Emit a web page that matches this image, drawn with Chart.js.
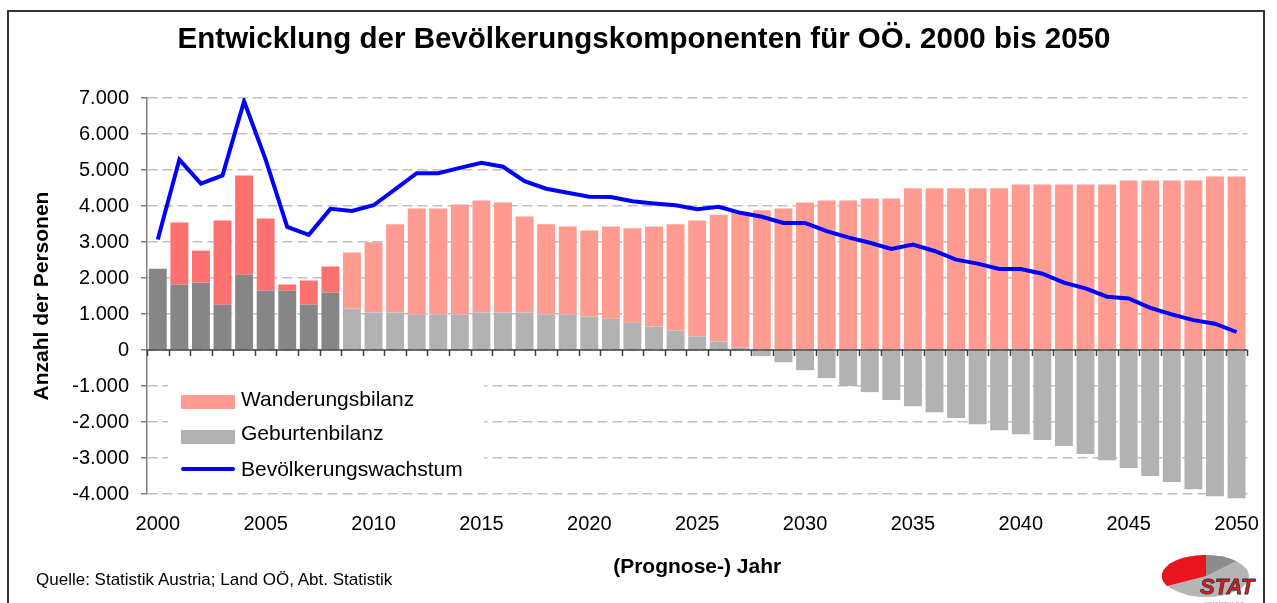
<!DOCTYPE html>
<html lang="de">
<head>
<meta charset="utf-8">
<title>Bevölkerungskomponenten OÖ</title>
<script src="https://cdn.jsdelivr.net/npm/chart.js@4.4.1/dist/chart.umd.min.js"></script>
<style>
  body { margin: 0; background: #fff; font-family: Arial, "Liberation Sans", sans-serif; }
  #wrap { position: relative; width: 1277px; height: 603px; overflow: hidden; }
  #rahmen { position: absolute; left: 7px; top: 10px; width: 1258px; height: 620px; border: 2px solid #333; box-sizing: border-box; }
  #titel { position: absolute; left: 0; width: 1288px; top: 21px; text-align: center; font-size: 29.5px; font-weight: bold; line-height: 34px; }
  #quelle { position: absolute; left: 36px; top: 570px; font-size: 17px; line-height: 20px; }
  #legende { position: absolute; left: 168px; top: 378px; width: 316px; height: 104px; background: #fff; }
  .eintrag { position: absolute; left: 73px; font-size: 21px; line-height: 24px; }
  .feld { position: absolute; left: 13px; width: 54px; height: 14px; }
  #logo { position: absolute; left: 1158px; top: 548px; }
</style>
</head>
<body>
<div id="wrap">
  <canvas id="grafik"></canvas>
  <div id="rahmen"></div>
  <div id="titel">Entwicklung der Bevölkerungskomponenten für OÖ. 2000 bis 2050</div>
  <div id="legende">
    <div class="feld" style="top:17px;background:#ff9b90"></div>
    <div class="eintrag" style="top:9px">Wanderungsbilanz</div>
    <div class="feld" style="top:52px;background:#b2b2b2"></div>
    <div class="eintrag" style="top:43px">Geburtenbilanz</div>
    <div class="feld" style="top:89px;height:4px;background:#0000ff;border-radius:2px"></div>
    <div class="eintrag" style="top:79px">Bevölkerungswachstum</div>
  </div>
  <div id="quelle">Quelle: Statistik Austria; Land OÖ, Abt. Statistik</div>
  <svg id="logo" width="110" height="60" viewBox="0 0 110 60">
    <ellipse cx="48" cy="28" rx="43" ry="21" fill="#b5b5b5"/>
    <path d="M48 28 L48 7 A43 21 0 0 0 9 38 Z" fill="#e8141e"/>
    <path d="M48 28 L48 7 A43 21 0 0 1 78 13 Z" fill="#8c8c8c"/>
    <text x="42" y="46" font-family="Arial, sans-serif" font-weight="bold" font-style="italic" font-size="22" fill="#e8141e" stroke="#333" stroke-width="0.8">STAT</text>
    <text x="46" y="58" font-family="Arial, sans-serif" font-size="6" fill="#999">STATISTIK OÖ</text>
  </svg>
</div>

<script>
const jahre = [2000, 2001, 2002, 2003, 2004, 2005, 2006, 2007, 2008, 2009,
  2010, 2011, 2012, 2013, 2014, 2015, 2016, 2017, 2018, 2019,
  2020, 2021, 2022, 2023, 2024, 2025, 2026, 2027, 2028, 2029,
  2030, 2031, 2032, 2033, 2034, 2035, 2036, 2037, 2038, 2039,
  2040, 2041, 2042, 2043, 2044, 2045, 2046, 2047, 2048, 2049, 2050];

const geburtenbilanz = [2260, 1820, 1870, 1260, 2100, 1650, 1650, 1260, 1600, 1150,
  1040, 1040, 990, 990, 990, 1040, 1040, 1040, 990, 990,
  930, 870, 760, 650, 540, 380, 240, 70, -170, -340,
  -560, -780, -1000, -1170, -1390, -1560, -1730, -1890, -2060, -2230,
  -2340, -2500, -2670, -2890, -3060, -3280, -3500, -3670, -3870, -4060, -4120];

const wanderungsbilanz = [0, 1720, 890, 2340, 2750, 2000, 170, 670, 720, 1560,
  1950, 2450, 2940, 2940, 3050, 3110, 3060, 2670, 2500, 2440,
  2390, 2560, 2620, 2780, 2950, 3220, 3520, 3770, 3880, 3930,
  4100, 4150, 4150, 4210, 4210, 4490, 4490, 4490, 4490, 4490,
  4600, 4600, 4600, 4600, 4600, 4710, 4710, 4710, 4710, 4820, 4820];

const wachstum = [3070, 5290, 4620, 4850, 6910, 5290, 3420, 3200, 3920, 3860,
  4020, 4460, 4910, 4910, 5060, 5200, 5090, 4690, 4480, 4370,
  4260, 4250, 4130, 4070, 4020, 3910, 3980, 3810, 3700, 3530,
  3530, 3300, 3130, 2980, 2810, 2930, 2750, 2510, 2400, 2250,
  2250, 2120, 1870, 1710, 1480, 1430, 1170, 990, 830, 730, 500];

// 2000-2008 sind Ist-Werte, danach Prognose
const letztesIstJahr = 2008;

const grauFarben = jahre.map(j => j <= letztesIstJahr ? '#868686' : '#b2b2b2');
const rotFarben = jahre.map(j => j <= letztesIstJahr ? '#ff7171' : '#ff9b90');

Chart.defaults.font.family = 'Arial, "Liberation Sans", sans-serif';
Chart.defaults.color = '#000';

function tausender(v) {
  const s = Math.abs(v).toString().replace(/\B(?=(\d{3})+(?!\d))/g, '.');
  return (v < 0 ? '-' : '') + s;
}

// Nulllinie mit Teilstrichen zwischen den Jahren
const nullLinie = {
  id: 'nullLinie',
  afterDatasetsDraw(chart) {
    const {ctx, chartArea, scales: {y}} = chart;
    const y0 = y.getPixelForValue(0);
    const breite = (chartArea.right - chartArea.left) / jahre.length;
    ctx.save();
    ctx.strokeStyle = '#404040';
    ctx.lineWidth = 1.5;
    ctx.beginPath();
    ctx.moveTo(chartArea.left, y0);
    ctx.lineTo(chartArea.right, y0);
    for (let i = 0; i <= jahre.length; i++) {
      const px = Math.round(chartArea.left + breite * i) + 0.5;
      ctx.moveTo(px, y0);
      ctx.lineTo(px, y0 + 6);
    }
    ctx.stroke();
    ctx.restore();
  }
};

const grafik = document.getElementById('grafik');

new Chart(grafik, {
  type: 'bar',
  data: {
    labels: jahre,
    datasets: [{
      type: 'line',
      label: 'Bevölkerungswachstum',
      data: wachstum,
      borderColor: '#0000ff',
      borderWidth: 4,
      pointRadius: 0,
      tension: 0,
      stack: 'linie',
      order: 0
    }, {
      label: 'Geburtenbilanz',
      data: geburtenbilanz,
      backgroundColor: grauFarben,
      stack: 'balken',
      clip: false,
      order: 1
    }, {
      label: 'Wanderungsbilanz',
      data: wanderungsbilanz,
      backgroundColor: rotFarben,
      stack: 'balken',
      clip: false,
      order: 1
    }]
  },
  options: {
    responsive: true,
    maintainAspectRatio: false,
    animation: false,
    layout: {
      padding: { left: 10, right: 22, top: 98, bottom: 0 }
    },
    datasets: {
      bar: { categoryPercentage: 1, barPercentage: 0.83 }
    },
    plugins: {
      legend: { display: false },
      tooltip: { enabled: false }
    },
    scales: {
      x: {
        stacked: true,
        grid: { display: false, drawTicks: false },
        border: { display: false },
        ticks: {
          autoSkip: false,
          maxRotation: 0,
          padding: 18,
          font: { size: 20 },
          callback: function(value, index) {
            return jahre[index] % 5 === 0 ? String(jahre[index]) : '';
          }
        },
        title: {
          display: true,
          text: '(Prognose-) Jahr',
          font: { size: 21, weight: 'bold' },
          padding: { top: 0, bottom: 23 }
        },
        afterFit: function(scale) { scale.height = 109; }
      },
      y: {
        stacked: true,
        min: -4000,
        max: 7000,
        ticks: {
          stepSize: 1000,
          padding: 12,
          font: { size: 20 },
          callback: function(value) { return tausender(value); }
        },
        grid: {
          color: '#c0c0c0',
          lineWidth: 1.5,
          tickLength: 6,
          tickColor: '#808080',
          tickWidth: 1.5,
          tickBorderDash: []
        },
        border: {
          display: true,
          color: '#808080',
          width: 1.5,
          dash: [10, 5]
        },
        title: {
          display: true,
          text: 'Anzahl der Personen',
          font: { size: 21, weight: 'bold' },
          padding: { top: 20, bottom: 0 }
        },
        afterFit: function(scale) { scale.width = 137; }
      }
    }
  },
  plugins: [nullLinie]
});
</script>
</body>
</html>
